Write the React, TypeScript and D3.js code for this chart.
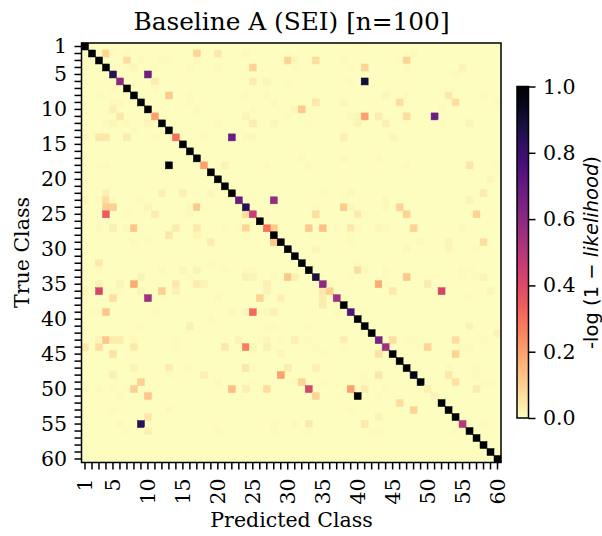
import React, { useRef, useEffect } from "react";
import * as d3 from "d3";

const title = "Baseline A (SEI) [n=100]";
const xLabel = "Predicted Class";
const yLabel = "True Class";
const classes = d3.range(1, 61);
const labelled = [1, 5, 10, 15, 20, 25, 30, 35, 40, 45, 50, 55, 60];
const colorbarTicks = [0, 0.2, 0.4, 0.6, 0.8, 1];

// diagonal, class 1 to 60
const diagonal = [
  1, 1, 1, 1, 0.85, 0.6, 1, 1, 1, 1,
  0.2, 1, 1, 0.3, 1, 1, 1, 0.2, 1, 1,
  1, 1, 0.68, 0.85, 0.45, 1, 0.3, 1, 1, 1,
  1, 1, 1, 0.88, 0.6, 0.1, 0.55, 1, 0.75, 1,
  1, 1, 0.65, 0.55, 1, 1, 1, 0.95, 1, 0.03,
  0.022, 1, 1, 1, 0.5, 1, 1, 1, 1, 1,
];

// [true class, predicted class, value]
const confusions: [number, number, number][] = [
  [2, 4, 0.09], [2, 5, 0.004], [2, 7, 0.01], [2, 17, 0.09], [2, 20, 0.045], [2, 24, 0.01], [2, 48, 0.006],
  [3, 7, 0.07], [3, 9, 0.004], [3, 12, 0.006], [3, 13, 0.006], [3, 17, 0.004], [3, 30, 0.09], [3, 31, 0.016], [3, 34, 0.07], [3, 38, 0.01], [3, 46, 0.006], [3, 47, 0.09],
  [4, 7, 0.006], [4, 8, 0.016], [4, 11, 0.004], [4, 16, 0.006], [4, 20, 0.01], [4, 25, 0.09], [4, 31, 0.006], [4, 39, 0.006], [4, 41, 0.09], [4, 47, 0.006], [4, 55, 0.022],
  [5, 10, 0.67], [5, 54, 0.01],
  [6, 11, 0.036], [6, 25, 0.036], [6, 27, 0.016], [6, 30, 0.006], [6, 39, 0.006], [6, 41, 0.9],
  [7, 5, 0.006], [7, 11, 0.01],
  [8, 3, 0.006], [8, 13, 0.11], [8, 16, 0.006], [8, 24, 0.006], [8, 27, 0.01], [8, 44, 0.016], [8, 47, 0.006], [8, 53, 0.045], [8, 58, 0.006],
  [9, 5, 0.01], [9, 6, 0.01], [9, 16, 0.006], [9, 28, 0.01], [9, 34, 0.05], [9, 38, 0.016], [9, 46, 0.07], [9, 54, 0.07], [9, 60, 0.004],
  [10, 5, 0.03], [10, 17, 0.01], [10, 25, 0.006], [10, 31, 0.012], [10, 32, 0.11], [10, 52, 0.006],
  [11, 6, 0.05], [11, 24, 0.022], [11, 30, 0.006], [11, 39, 0.01], [11, 40, 0.016], [11, 41, 0.2], [11, 43, 0.036], [11, 47, 0.07], [11, 51, 0.68],
  [12, 4, 0.006], [12, 5, 0.016], [12, 7, 0.01], [12, 10, 0.016], [12, 20, 0.01], [12, 25, 0.036], [12, 28, 0.016], [12, 33, 0.006], [12, 40, 0.022], [12, 44, 0.03], [12, 52, 0.006], [12, 56, 0.022],
  [13, 8, 0.004],
  [14, 1, 0.016], [14, 3, 0.05], [14, 4, 0.05], [14, 7, 0.036], [14, 11, 0.004], [14, 18, 0.006], [14, 22, 0.68], [14, 24, 0.01], [14, 25, 0.01], [14, 38, 0.03], [14, 45, 0.016],
  [17, 32, 0.006], [17, 38, 0.01], [17, 43, 0.006],
  [18, 3, 0.006], [18, 4, 0.006], [18, 13, 1], [18, 21, 0.022], [18, 27, 0.006], [18, 33, 0.01], [18, 47, 0.006], [18, 56, 0.05], [18, 60, 0.006],
  [20, 59, 0.016],
  [22, 4, 0.03], [22, 12, 0.03], [22, 15, 0.03], [22, 19, 0.016], [22, 35, 0.006], [22, 39, 0.01], [22, 58, 0.036],
  [23, 1, 0.016], [23, 3, 0.006], [23, 4, 0.07], [23, 5, 0.01], [23, 9, 0.006], [23, 28, 0.58], [23, 44, 0.01], [23, 56, 0.022],
  [24, 4, 0.1], [24, 5, 0.1], [24, 10, 0.016], [24, 16, 0.01], [24, 17, 0.11], [24, 18, 0.006], [24, 34, 0.006], [24, 38, 0.11], [24, 39, 0.016], [24, 44, 0.01], [24, 46, 0.09],
  [25, 4, 0.35], [25, 7, 0.006], [25, 11, 0.036], [25, 16, 0.006], [25, 24, 0.07], [25, 27, 0.006], [25, 34, 0.07], [25, 40, 0.045], [25, 41, 0.006], [25, 47, 0.09], [25, 57, 0.09],
  [27, 3, 0.006], [27, 5, 0.03], [27, 7, 0.01], [27, 8, 0.12], [27, 9, 0.006], [27, 14, 0.036], [27, 17, 0.045], [27, 21, 0.006], [27, 23, 0.006], [27, 24, 0.09], [27, 28, 0.11], [27, 33, 0.11], [27, 35, 0.13], [27, 37, 0.006], [27, 39, 0.05], [27, 40, 0.006], [27, 43, 0.016], [27, 44, 0.01], [27, 48, 0.09], [27, 55, 0.01],
  [28, 13, 0.05], [28, 17, 0.016], [28, 24, 0.004], [28, 39, 0.006],
  [29, 8, 0.006], [29, 10, 0.006], [29, 19, 0.036], [29, 28, 0.12], [29, 39, 0.006], [29, 49, 0.01], [29, 53, 0.016], [29, 58, 0.07],
  [30, 34, 0.016], [30, 47, 0.01], [30, 53, 0.016], [30, 57, 0.004],
  [32, 3, 0.045], [32, 19, 0.006], [32, 40, 0.004],
  [33, 1, 0.006], [33, 3, 0.006], [33, 12, 0.01], [33, 15, 0.016], [33, 17, 0.022], [33, 21, 0.006], [33, 24, 0.01], [33, 25, 0.01], [33, 40, 0.07], [33, 41, 0.01], [33, 44, 0.006], [33, 55, 0.006], [33, 56, 0.006],
  [34, 9, 0.022], [34, 16, 0.006], [34, 24, 0.03], [34, 25, 0.022], [34, 28, 0.006], [34, 30, 0.12], [34, 31, 0.03], [34, 39, 0.004], [34, 44, 0.006], [34, 47, 0.12], [34, 50, 0.004], [34, 55, 0.006], [34, 57, 0.006], [34, 58, 0.022],
  [35, 3, 0.03], [35, 6, 0.016], [35, 8, 0.18], [35, 14, 0.045], [35, 17, 0.036], [35, 18, 0.022], [35, 27, 0.03], [35, 36, 0.006], [35, 43, 0.18], [35, 44, 0.004], [35, 50, 0.036],
  [36, 1, 0.016], [36, 3, 0.42], [36, 5, 0.006], [36, 6, 0.01], [36, 9, 0.016], [36, 12, 0.1], [36, 14, 0.03], [36, 27, 0.022], [36, 35, 0.05], [36, 45, 0.045], [36, 52, 0.42], [36, 59, 0.016],
  [37, 5, 0.07], [37, 10, 0.55], [37, 20, 0.01], [37, 26, 0.09], [37, 29, 0.03], [37, 35, 0.036], [37, 56, 0.004],
  [38, 35, 0.036], [38, 37, 0.004],
  [39, 2, 0.006], [39, 3, 0.006], [39, 4, 0.12], [39, 11, 0.004], [39, 22, 0.01], [39, 24, 0.016], [39, 25, 0.32], [39, 27, 0.01], [39, 28, 0.03], [39, 37, 0.006], [39, 41, 0.006],
  [40, 19, 0.01],
  [41, 9, 0.006], [41, 16, 0.03], [41, 27, 0.006], [41, 28, 0.006], [41, 33, 0.006], [41, 56, 0.022],
  [42, 60, 0.022],
  [43, 3, 0.016], [43, 4, 0.12], [43, 5, 0.036], [43, 6, 0.036], [43, 8, 0.01], [43, 14, 0.006], [43, 23, 0.022], [43, 27, 0.012], [43, 29, 0.006], [43, 31, 0.03], [43, 33, 0.006], [43, 38, 0.036], [43, 45, 0.07], [43, 47, 0.006], [43, 48, 0.006], [43, 54, 0.07], [43, 58, 0.006],
  [44, 1, 0.05], [44, 3, 0.07], [44, 8, 0.045], [44, 14, 0.006], [44, 21, 0.05], [44, 24, 0.27], [44, 25, 0.016], [44, 27, 0.03], [44, 34, 0.004], [44, 38, 0.004], [44, 49, 0.006], [44, 50, 0.09], [44, 55, 0.006], [44, 56, 0.006],
  [45, 5, 0.06], [45, 29, 0.016], [45, 35, 0.006], [45, 43, 0.06], [45, 54, 0.09],
  [47, 8, 0.022], [47, 13, 0.036], [47, 16, 0.006], [47, 24, 0.05], [47, 25, 0.006], [47, 30, 0.036], [47, 34, 0.03], [47, 53, 0.006], [47, 57, 0.006],
  [48, 5, 0.03], [48, 13, 0.006], [48, 18, 0.03], [48, 29, 0.2], [48, 41, 0.006], [48, 43, 0.05], [48, 53, 0.045], [48, 57, 0.006],
  [49, 9, 0.1], [49, 20, 0.01], [49, 31, 0.006], [49, 32, 0.09], [49, 35, 0.004], [49, 41, 0.006], [49, 54, 0.06], [49, 58, 0.006], [49, 59, 0.006],
  [50, 1, 0.006], [50, 3, 0.01], [50, 5, 0.006], [50, 7, 0.006], [50, 8, 0.1], [50, 22, 0.14], [50, 24, 0.03], [50, 27, 0.07], [50, 33, 0.42], [50, 39, 0.2], [50, 41, 0.036], [50, 44, 0.006], [50, 57, 0.036],
  [51, 6, 0.01], [51, 10, 0.12], [51, 34, 0.09], [51, 40, 1], [51, 43, 0.006],
  [52, 46, 0.07],
  [53, 5, 0.006], [53, 13, 0.01], [53, 39, 0.004], [53, 48, 0.09],
  [54, 10, 0.05], [54, 43, 0.022],
  [55, 6, 0.006], [55, 9, 0.85], [55, 28, 0.006], [55, 31, 0.006], [55, 33, 0.045], [55, 41, 0.045], [55, 58, 0.004],
  [56, 7, 0.006], [56, 10, 0.03], [56, 20, 0.006], [56, 28, 0.006], [56, 33, 0.006], [56, 42, 0.004], [56, 43, 0.004], [56, 54, 0.004],
];

const serif = "'DejaVu Serif', serif";
const sans = "'DejaVu Sans', sans-serif";
const plot = { left: 81.5, right: 501, top: 43, bottom: 462.5 };
const bar = { left: 517, right: 528.5, top: 86.5, bottom: 418 };

// sequential colour, light at 0 and black at 1
const color = (v: number) => d3.interpolateMagma(1 - v);

export default function App() {
  const svgRef = useRef<SVGSVGElement>(null);

  useEffect(() => {
    const svg = d3.select(svgRef.current);
    svg.selectAll("*").remove();

    const x = d3.scaleBand<number>().domain(classes).range([plot.left, plot.right]);
    const y = d3.scaleBand<number>().domain(classes).range([plot.top, plot.bottom]);

    // background, then the cells
    svg.append("rect")
      .attr("x", plot.left).attr("y", plot.top)
      .attr("width", plot.right - plot.left).attr("height", plot.bottom - plot.top)
      .attr("fill", color(0));

    const cells: [number, number, number][] = [
      ...confusions,
      ...diagonal.map((v, i) => [classes[i], classes[i], v] as [number, number, number]),
    ];
    svg.append("g").selectAll("rect").data(cells).join("rect")
      .attr("x", (d) => x(d[1])!)
      .attr("y", (d) => y(d[0])!)
      .attr("width", x.bandwidth())
      .attr("height", y.bandwidth())
      .attr("fill", (d) => color(d[2]))
      .attr("stroke", (d) => color(d[2]))
      .attr("stroke-width", 0.5);

    // frame
    svg.append("rect")
      .attr("x", plot.left).attr("y", plot.top)
      .attr("width", plot.right - plot.left).attr("height", plot.bottom - plot.top)
      .attr("fill", "none").attr("stroke", "#000").attr("stroke-width", 1.5);

    const tickLabel = (d: d3.NumberValue) => (labelled.includes(+d) ? String(d) : "");

    const xAxis = svg.append("g")
      .attr("transform", `translate(0,${plot.bottom})`)
      .call(d3.axisBottom(x).tickValues(classes).tickFormat(tickLabel as any).tickSize(7));
    xAxis.selectAll("text")
      .attr("transform", "rotate(-90)")
      .attr("x", -16).attr("y", 0).attr("dy", "0.36em")
      .style("text-anchor", "end");

    const yAxis = svg.append("g")
      .attr("transform", `translate(${plot.left},0)`)
      .call(d3.axisLeft(y).tickValues(classes).tickFormat(tickLabel as any).tickSize(7).tickPadding(7.5));

    // colorbar
    const cScale = d3.scaleLinear().domain([0, 1]).range([bar.bottom, bar.top]);
    const gradient = svg.append("defs").append("linearGradient")
      .attr("id", "colorbar-gradient")
      .attr("x1", 0).attr("x2", 0).attr("y1", 1).attr("y2", 0);
    gradient.selectAll("stop").data(d3.range(0, 1.0001, 0.02)).join("stop")
      .attr("offset", (d) => d)
      .attr("stop-color", (d) => color(d));
    svg.append("rect")
      .attr("x", bar.left).attr("y", bar.top)
      .attr("width", bar.right - bar.left).attr("height", bar.bottom - bar.top)
      .attr("fill", "url(#colorbar-gradient)")
      .attr("stroke", "#000").attr("stroke-width", 1.5);
    const cAxis = svg.append("g")
      .attr("transform", `translate(${bar.right},0)`)
      .call(d3.axisRight(cScale).tickValues(colorbarTicks).tickFormat(d3.format(".1f") as any).tickSize(7).tickPadding(7.5));

    [xAxis, yAxis, cAxis].forEach((a) => {
      a.select(".domain").remove();
      a.selectAll("line").attr("stroke", "#000").attr("stroke-width", 1.5);
      a.selectAll("text").attr("font-family", serif).attr("font-size", 20.5).attr("fill", "#000");
    });

    // titles
    svg.append("text")
      .attr("x", 291.5).attr("y", 30)
      .attr("text-anchor", "middle")
      .attr("font-family", serif).attr("font-size", 24.8)
      .text(title);
    svg.append("text")
      .attr("x", 291.5).attr("y", 527)
      .attr("text-anchor", "middle")
      .attr("font-family", serif).attr("font-size", 20.5)
      .text(xLabel);
    svg.append("text")
      .attr("transform", "translate(29,252.5) rotate(-90)")
      .attr("text-anchor", "middle")
      .attr("font-family", serif).attr("font-size", 20.5)
      .text(yLabel);
    const cLabel = svg.append("text")
      .attr("transform", "translate(598,252.5) rotate(-90)")
      .attr("text-anchor", "middle")
      .attr("font-family", sans).attr("font-size", 19.5);
    cLabel.append("tspan").text("-log (1 \u2212 ");
    cLabel.append("tspan").attr("font-style", "italic").text("likelihood");
    cLabel.append("tspan").text(")");
  }, []);

  return (
    <svg ref={svgRef} width={602} height={536} style={{ position: "absolute", left: 0, top: 0 }} />
  );
}
